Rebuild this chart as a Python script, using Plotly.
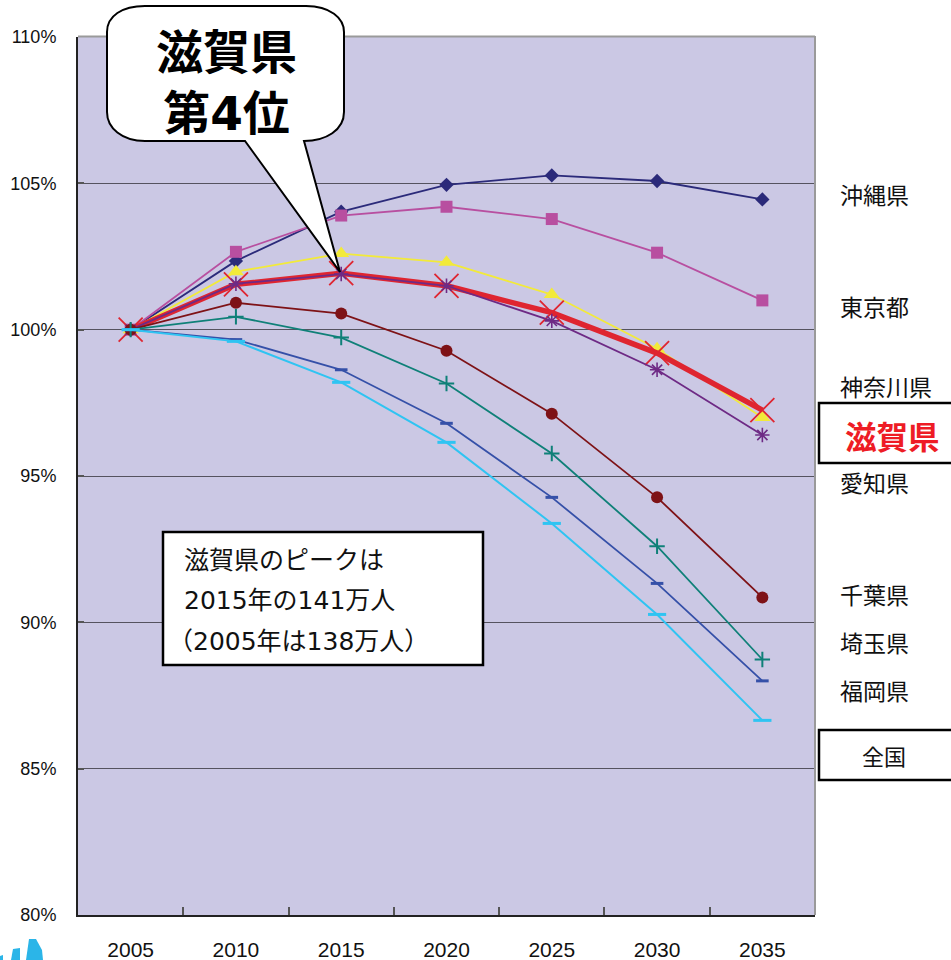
import plotly.graph_objects as go

W, H = 951, 960
L, R, T, B = 78, 815, 37, 915

years = ["2005", "2010", "2015", "2020", "2025", "2030", "2035"]

okinawa = [100, 102.35, 104.03, 104.95, 105.27, 105.08, 104.45]
tokyo = [100, 102.66, 103.90, 104.20, 103.78, 102.63, 101.00]
kanagawa = [100, 101.98, 102.60, 102.30, 101.20, 99.35, 97.00]
shiga = [100, 101.55, 101.93, 101.50, 100.58, 99.20, 97.25]
aichi = [100, 101.57, 101.90, 101.50, 100.30, 98.63, 96.40]
chiba = [100, 100.92, 100.55, 99.28, 97.13, 94.27, 90.85]
saitama = [100, 100.44, 99.73, 98.16, 95.77, 92.60, 88.73]
fukuoka = [100, 99.66, 98.63, 96.80, 94.27, 91.33, 88.00]
zenkoku = [100, 99.60, 98.20, 96.15, 93.38, 90.27, 86.65]

names = ["沖縄県", "東京都", "神奈川県", "滋賀県", "愛知県", "千葉県", "埼玉県", "福岡県", "全国"]

JP = "Noto Sans CJK JP"
JPW = "DejaVu Sans, Noto Sans CJK JP"
SANS = "Liberation Sans"


def px(x):
    return (x - L) / (R - L)


def py(y):
    return (B - y) / (B - T)


def path(cmds):
    out = []
    for c in cmds:
        out.append(c[0] + " ".join(f"{px(c[i]):.5f},{py(c[i + 1]):.5f}" for i in range(1, len(c), 2)))
    return " ".join(out) + " Z"


styles = [
    (okinawa, "#2B2A7A", 1.8, "diamond", 11, {}),
    (tokyo, "#B84FA0", 1.8, "square", 12, {}),
    (kanagawa, "#F2EA3A", 1.8, "triangle-up", 14, {}),
    (shiga, "#DF2530", 5.5, "x-thin-open", 24, {"width": 1.8, "color": "#DF2530"}),
    (aichi, "#6E2A85", 1.8, "asterisk-open", 12, {"width": 1.6, "color": "#6E2A85"}),
    (chiba, "#7E1216", 1.8, "circle", 12, {}),
    (saitama, "#0F8078", 1.8, "cross-thin-open", 11, {"width": 2, "color": "#0F8078"}),
    (fukuoka, "#3550A8", 1.8, "line-ew-open", 9, {"width": 3, "color": "#3550A8"}),
    (zenkoku, "#2FC4F2", 2, "line-ew-open", 13, {"width": 3, "color": "#2FC4F2"}),
]

fig = go.Figure()
for (vals, col, lw, sym, size, mline), name in zip(styles, names):
    marker = dict(symbol=sym, size=size, color=col)
    if mline:
        marker["line"] = mline
    fig.add_trace(go.Scatter(x=years, y=vals, name=name, mode="lines+markers",
                             line=dict(color=col, width=lw), marker=marker, cliponaxis=False))

shapes = [
    dict(type="line", xref="paper", yref="paper", x0=0, x1=1, y0=py(36.5), y1=py(36.5), line=dict(color="#9a9a9a", width=2)),
    dict(type="line", xref="paper", yref="paper", x0=1, x1=1, y0=0, y1=py(36), line=dict(color="#9a9a9a", width=2)),
    # callout
    dict(type="path", xref="paper", yref="paper", fillcolor="white", line=dict(color="black", width=2), path=path([
        ("M", 145, 6), ("L", 306, 6), ("C", 330, 6, 344, 18, 344, 32), ("L", 344, 112),
        ("C", 344, 130, 326, 141, 304, 141), ("L", 340, 272), ("L", 245, 141), ("L", 145, 141),
        ("C", 122, 141, 107, 128, 107, 112), ("L", 107, 32), ("C", 107, 16, 122, 6, 145, 6),
    ])),
    # note box
    dict(type="rect", xref="paper", yref="paper", x0=px(163), x1=px(483), y0=py(665), y1=py(532),
         fillcolor="white", line=dict(color="black", width=2.5)),
    # label boxes
    dict(type="rect", xref="paper", yref="paper", x0=px(819), x1=px(960), y0=py(463), y1=py(403),
         fillcolor="white", line=dict(color="black", width=2.5)),
    dict(type="rect", xref="paper", yref="paper", x0=px(819), x1=px(960), y0=py(780), y1=py(730),
         fillcolor="white", line=dict(color="black", width=2.5)),
    # corner fragment
    dict(type="path", xref="paper", yref="paper", fillcolor="#2BB5E8", line=dict(width=0), path=path([
        ("M", 26, 960), ("L", 29, 939), ("L", 36, 939), ("L", 42, 950), ("L", 43, 960),
    ])),
    dict(type="path", xref="paper", yref="paper", fillcolor="#2BB5E8", line=dict(width=0), path=path([
        ("M", 11, 960), ("L", 13, 949), ("L", 20, 948), ("L", 20, 960),
    ])),
    dict(type="path", xref="paper", yref="paper", fillcolor="#2BB5E8", line=dict(width=0), path=path([
        ("M", 0, 960), ("L", 0, 956), ("L", 3, 955), ("L", 3, 960),
    ])),
]


def note(text, x, y, size, color="#111111", anchor="left", bold=False, family=JP):
    if bold:
        text = f"<b>{text.replace('<br>', '</b><br><b>')}</b>"
    return dict(text=text, xref="paper", yref="paper", x=px(x), y=py(y), showarrow=False,
                xanchor=anchor, yanchor="middle", font=dict(family=family, size=size, color=color),
                align=anchor, borderpad=0, borderwidth=0)


label_y = [194, 306, 386, 435, 482, 594, 642, 690, 755]
annotations = []
for n, y in zip(names, label_y):
    if n == "滋賀県":
        annotations.append(note(n, 845, y, 31.5, "#EE1C25", bold=True))
    elif n == "全国":
        annotations.append(note(n, 862, y, 22))
    else:
        annotations.append(note(n, 840, y, 23))
annotations += [
    note("滋賀県<br>第4位", 226, 83, 47, "black", "center", True, JPW),
    note("滋賀県のピークは", 184, 560, 25, family=JPW),
    note("2015年の141万人", 184, 600, 25, family=JPW),
    note("（2005年は138万人）", 168, 641, 25, family=JPW),
]

fig.update_layout(
    width=W, height=H,
    margin=dict(l=L, r=W - R, t=T, b=H - B, pad=0),
    paper_bgcolor="white", plot_bgcolor="#CBC8E4",
    showlegend=False,
    shapes=shapes, annotations=annotations,
    font=dict(family=SANS, color="#111111"),
    xaxis=dict(type="category", categoryorder="array", categoryarray=years, range=[-0.5, 6.5],
               tickson="boundaries", ticks="inside", ticklen=8, tickcolor="#555555", tickwidth=1.5,
               showgrid=False, showline=True, linecolor="#222222", linewidth=2, automargin=False,
               tickfont=dict(family=SANS, size=21), ticklabelstandoff=15),
    yaxis=dict(range=[80, 110], dtick=5, ticksuffix="%", ticks="inside", ticklen=6,
               tickcolor="#555555", tickwidth=1.5, showgrid=True, gridcolor="#55535F", gridwidth=1.3,
               zeroline=False, showline=True, linecolor="#222222", linewidth=2, automargin=False,
               tickfont=dict(family=SANS, size=18), ticklabelstandoff=16),
)

fig.write_html("out.html", config={"displayModeBar": False},
               post_script="document.body.style.margin='0';document.documentElement.style.overflow='hidden';")
